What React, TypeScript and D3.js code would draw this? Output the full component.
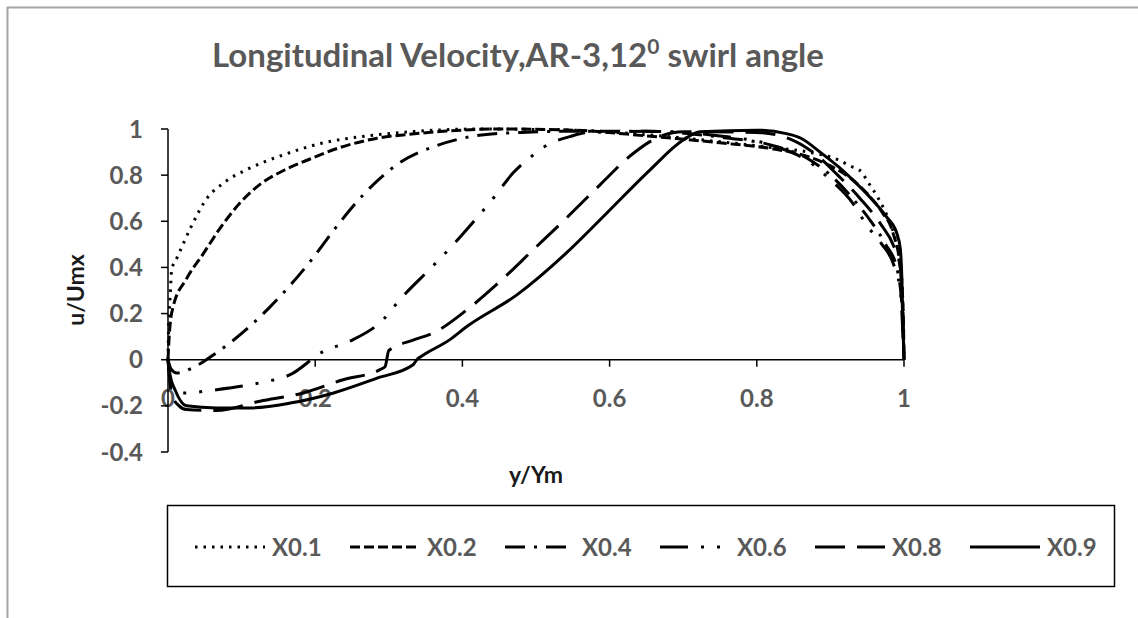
import React from "react";
import * as d3 from "d3";

const W = 1138;
const H = 618;

const titleMain = "Longitudinal Velocity,AR-3,12";
const titleSup = "0";
const titleEnd = " swirl angle";
const yTitle = "u/Umx";
const xTitle = "y/Ym";

const xTicks = [0, 0.2, 0.4, 0.6, 0.8, 1];
const yTicks = [-0.4, -0.2, 0, 0.2, 0.4, 0.6, 0.8, 1];

const seriesNames = ["X0.1", "X0.2", "X0.4", "X0.6", "X0.8", "X0.9"];
const dashes = ["2.5 6", "10 4", "20 9 3 9", "28 13 3 13 3 13", "30 12", ""];

const x01 = [0, 0.001, 0.003, 0.005, 0.012, 0.019, 0.032, 0.053, 0.073, 0.111, 0.156, 0.211, 0.27, 0.338, 0.42, 0.55, 0.65, 0.75, 0.82, 0.87, 0.908, 0.927, 0.942, 0.951, 0.965, 0.98, 0.99, 0.997, 1];
const u01 = [0, 0.15, 0.28, 0.39, 0.44, 0.49, 0.58, 0.7, 0.76, 0.83, 0.887, 0.94, 0.97, 0.99, 1.0, 0.995, 0.975, 0.945, 0.92, 0.9, 0.87, 0.84, 0.815, 0.77, 0.7, 0.6, 0.5, 0.35, 0];

const x02 = [0, 0.002, 0.007, 0.025, 0.048, 0.073, 0.098, 0.125, 0.157, 0.193, 0.234, 0.284, 0.338, 0.374, 0.45, 0.55, 0.65, 0.75, 0.82, 0.87, 0.9, 0.93, 0.95, 0.97, 0.985, 0.995, 0.999, 1];
const u02 = [0, 0.12, 0.23, 0.35, 0.46, 0.58, 0.68, 0.76, 0.82, 0.87, 0.92, 0.96, 0.98, 0.99, 1.0, 0.995, 0.97, 0.94, 0.915, 0.88, 0.84, 0.78, 0.72, 0.64, 0.55, 0.4, 0.2, 0];

const x04 = [0, 0.004, 0.012, 0.037, 0.064, 0.111, 0.139, 0.154, 0.193, 0.229, 0.268, 0.313, 0.367, 0.426, 0.48, 0.541, 0.65, 0.75, 0.82, 0.87, 0.9, 0.93, 0.955, 0.975, 0.99, 0.998, 1];
const u04 = [0, -0.04, -0.058, -0.029, 0.026, 0.144, 0.23, 0.28, 0.425, 0.577, 0.724, 0.85, 0.93, 0.974, 0.985, 0.99, 0.99, 0.965, 0.93, 0.87, 0.8, 0.7, 0.6, 0.5, 0.4, 0.2, 0];

const x06 = [0, 0.005, 0.021, 0.066, 0.125, 0.166, 0.211, 0.247, 0.293, 0.315, 0.358, 0.388, 0.413, 0.442, 0.469, 0.496, 0.515, 0.546, 0.569, 0.65, 0.75, 0.82, 0.87, 0.9, 0.93, 0.95, 0.97, 0.985, 0.995, 1];
const u06 = [0, -0.12, -0.144, -0.13, -0.1, -0.065, 0.036, 0.08, 0.176, 0.26, 0.4, 0.5, 0.59, 0.7, 0.81, 0.887, 0.93, 0.967, 0.984, 0.99, 0.97, 0.93, 0.86, 0.78, 0.68, 0.58, 0.5, 0.42, 0.3, 0];

const x08 = [0, 0.005, 0.015, 0.025, 0.066, 0.125, 0.184, 0.238, 0.288, 0.295, 0.3, 0.333, 0.36, 0.406, 0.451, 0.496, 0.541, 0.587, 0.632, 0.668, 0.7, 0.8, 0.85, 0.88, 0.91, 0.94, 0.97, 0.985, 0.995, 1];
const u08 = [0, -0.15, -0.2, -0.216, -0.22, -0.18, -0.144, -0.087, -0.043, -0.03, 0.04, 0.085, 0.115, 0.216, 0.339, 0.476, 0.613, 0.758, 0.894, 0.967, 0.988, 0.985, 0.95, 0.89, 0.8, 0.7, 0.58, 0.5, 0.4, 0];

const x09 = [0, 0.003, 0.0095, 0.025, 0.066, 0.111, 0.166, 0.225, 0.284, 0.333, 0.338, 0.347, 0.383, 0.406, 0.474, 0.541, 0.596, 0.655, 0.7, 0.723, 0.8, 0.84, 0.86, 0.886, 0.917, 0.949, 0.976, 0.99, 0.995, 0.997, 0.999, 1];
const u09 = [0, -0.07, -0.13, -0.2, -0.209, -0.209, -0.188, -0.144, -0.08, -0.022, 0.0, 0.02, 0.087, 0.144, 0.281, 0.462, 0.635, 0.823, 0.952, 0.988, 0.995, 0.98, 0.96, 0.9, 0.82, 0.72, 0.62, 0.55, 0.48, 0.36, 0.1, 0];

const seriesX = [x01, x02, x04, x06, x08, x09];
const seriesU = [u01, u02, u04, u06, u08, u09];

const FONT = "Lato, 'Open Sans', sans-serif";
const GRAY = "#595959";

export default function App() {
  const x = d3.scaleLinear().domain([0, 1]).range([168, 904]);
  const y = d3.scaleLinear().domain([-0.4, 1]).range([452, 129]);
  const line = d3
    .line<[number, number]>()
    .x((d) => x(d[0]))
    .y((d) => y(d[1]))
    .curve(d3.curveMonotoneX);

  const legendX = d3.scaleLinear().domain([0, 1]).range([195, 350]);

  return (
    <svg width={W} height={H} style={{ position: "absolute", left: 0, top: 0, background: "#fff" }}>
      <rect x={7.5} y={7.5} width={1300} height={800} fill="#fff" stroke="#a6a6a6" strokeWidth={2} />
      <text x={518} y={67} textAnchor="middle" fontFamily={FONT} fontWeight={700} fontSize={33} fill={GRAY}>
        {titleMain}
        <tspan fontSize={21} dy={-13}>{titleSup}</tspan>
        <tspan dy={13}>{titleEnd}</tspan>
      </text>

      {yTicks.map((t) => (
        <text key={"yl" + t} x={143} y={y(t)} dy="0.36em" textAnchor="end" fontFamily={FONT} fontWeight={700} fontSize={24} fill={GRAY}>
          {String(t)}
        </text>
      ))}
      {xTicks.map((t) => (
        <text key={"xl" + t} x={x(t)} y={398} dy="0.36em" textAnchor="middle" fontFamily={FONT} fontWeight={700} fontSize={24} fill={GRAY}>
          {String(t)}
        </text>
      ))}

      <line x1={x(0)} x2={x(0)} y1={y(-0.4)} y2={y(1)} stroke="#000" strokeWidth={1.5} />
      <line x1={x(0)} x2={x(1)} y1={y(0)} y2={y(0)} stroke="#000" strokeWidth={1.5} />
      {yTicks.map((t) => (
        <line key={"yt" + t} x1={x(0) - 7} x2={x(0)} y1={y(t)} y2={y(t)} stroke="#000" strokeWidth={1.5} />
      ))}
      {xTicks.map((t) => (
        <line key={"xt" + t} x1={x(t)} x2={x(t)} y1={y(0)} y2={y(0) + 7} stroke="#000" strokeWidth={1.5} />
      ))}

      <text transform={`translate(84,290) rotate(-90)`} textAnchor="middle" fontFamily={FONT} fontWeight={700} fontSize={23} fill="#1a1a1a">
        {yTitle}
      </text>
      <text x={536} y={483} textAnchor="middle" fontFamily={FONT} fontWeight={700} fontSize={23} fill="#1a1a1a">
        {xTitle}
      </text>

      {seriesNames.map((name, i) => (
        <path
          key={name}
          d={line(seriesX[i].map((v, j) => [v, seriesU[i][j]]) as [number, number][]) || ""}
          fill="none"
          stroke="#000"
          strokeWidth={3}
          strokeDasharray={dashes[i] || undefined}
        />
      ))}

      <rect x={167.5} y={505.5} width={947} height={81} fill="#fff" stroke="#000" strokeWidth={1.5} />
      {seriesNames.map((name, i) => (
        <g key={"lg" + name}>
          <line x1={legendX(i)} x2={legendX(i) + 70} y1={547} y2={547} stroke="#000" strokeWidth={3} strokeDasharray={dashes[i] || undefined} />
          <text x={legendX(i) + 77} y={547} dy="0.36em" fontFamily={FONT} fontWeight={700} fontSize={24} fill={GRAY}>
            {name}
          </text>
        </g>
      ))}
    </svg>
  );
}
